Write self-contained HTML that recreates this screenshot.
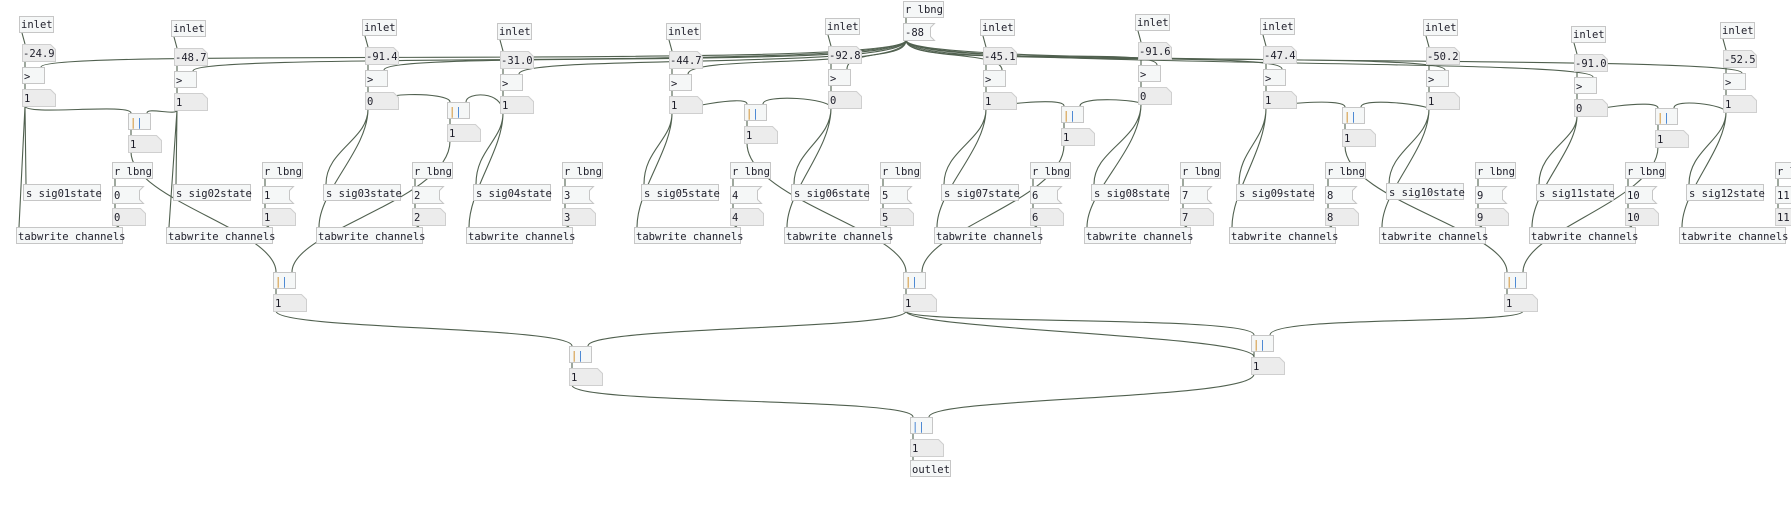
<!DOCTYPE html>
<html><head><meta charset="utf-8"><style>
html,body{margin:0;padding:0;background:#fff;width:1791px;height:524px;overflow:hidden}
svg{display:block}
.o{fill:#f5f7f7;stroke:#c6c6c6;stroke-width:1}
.n{fill:#ececec;stroke:#cfcfcf;stroke-width:1}
.m{fill:#f5f7f7;stroke:#c6c6c6;stroke-width:1}
text{font-family:"DejaVu Sans Mono","Liberation Mono",monospace;font-size:10.5px;fill:#1e1e2a}
.c{fill:none;stroke:#50604f;stroke-width:1.1}
.or{fill:#d08a20}.bl{fill:#3a7dd0}
</style></head><body>
<svg width="1791" height="524" viewBox="0 0 1791 524">
<!-- cords -->
<g class="c">
<!-- -88 to > right inlets -->
<path d="M906 40 C906 70 41 47 41 67"/>
<path d="M906 40 C906 70 193 51 193 71"/>
<path d="M906 40 C906 70 384 50 384 70"/>
<path d="M906 40 C906 70 519 54 519 74"/>
<path d="M906 40 C906 70 688 54 688 74"/>
<path d="M906 40 C906 60 847 49 847 69"/>
<path d="M906 40 C906 60 1002 50 1002 70"/>
<path d="M906 40 C906 70 1157 45 1157 65"/>
<path d="M906 40 C906 70 1282 49 1282 69"/>
<path d="M906 40 C906 70 1445 50 1445 70"/>
<path d="M906 40 C906 70 1593 57 1593 77"/>
<path d="M906 40 C906 70 1742 53 1742 73"/>
<path d="M906 17 L906 23"/>
<!-- column internal cords -->
<path d="M22 33 L25 44 M25 61 L25 67 M25 84 L25 89 M25 106 L26 184 M25 106 L19 227 M115 179 L115 186 M115 203 L115 208 M115 225 L119 227"/>
<path d="M174 37 L177 48 M177 65 L177 71 M177 88 L177 93 M177 110 L176 184 M177 110 L169 227 M265 179 L265 186 M265 203 L265 208 M265 225 L269 227"/>
<path d="M365 36 L368 47 M368 64 L368 70 M368 87 L368 92 M368 109 C368 140 326 150 326 184 M368 109 C368 150 319 190 319 227 M415 179 L415 186 M415 203 L415 208 M415 225 L419 227"/>
<path d="M500 40 L503 51 M503 68 L503 74 M503 91 L503 96 M503 113 C503 140 476 150 476 184 M503 113 C503 150 469 190 469 227 M565 179 L565 186 M565 203 L565 208 M565 225 L569 227"/>
<path d="M669 40 L672 51 M672 68 L672 74 M672 91 L672 96 M672 113 C672 140 644 150 644 184 M672 113 C672 150 637 190 637 227 M733 179 L733 186 M733 203 L733 208 M733 225 L737 227"/>
<path d="M828 35 L831 46 M831 63 L831 69 M831 86 L831 91 M831 108 C831 140 794 150 794 184 M831 108 C831 150 787 190 787 227 M883 179 L883 186 M883 203 L883 208 M883 225 L887 227"/>
<path d="M983 36 L986 47 M986 64 L986 70 M986 87 L986 92 M986 109 C986 140 944 150 944 184 M986 109 C986 150 937 190 937 227 M1033 179 L1033 186 M1033 203 L1033 208 M1033 225 L1037 227"/>
<path d="M1138 31 L1141 42 M1141 59 L1141 65 M1141 82 L1141 87 M1141 104 C1141 140 1094 150 1094 184 M1141 104 C1141 150 1087 190 1087 227 M1183 179 L1183 186 M1183 203 L1183 208 M1183 225 L1187 227"/>
<path d="M1263 35 L1266 46 M1266 63 L1266 69 M1266 86 L1266 91 M1266 108 C1266 140 1239 150 1239 184 M1266 108 C1266 150 1232 190 1232 227 M1328 179 L1328 186 M1328 203 L1328 208 M1328 225 L1332 227"/>
<path d="M1426 36 L1429 47 M1429 64 L1429 70 M1429 87 L1429 92 M1429 109 C1429 140 1389 150 1389 184 M1429 109 C1429 150 1382 190 1382 227 M1478 179 L1478 186 M1478 203 L1478 208 M1478 225 L1482 227"/>
<path d="M1574 43 L1577 54 M1577 71 L1577 77 M1577 94 L1577 99 M1577 116 C1577 140 1539 150 1539 184 M1577 116 C1577 150 1532 190 1532 227 M1628 179 L1628 186 M1628 203 L1628 208 M1628 225 L1632 227"/>
<path d="M1723 39 L1726 50 M1726 67 L1726 73 M1726 90 L1726 95 M1726 112 C1726 140 1689 150 1689 184 M1726 112 C1726 150 1682 190 1682 227 M1778 179 L1778 186 M1778 203 L1778 208"/>
<!-- to pair || -->
<path d="M25 106 C25 116 131 103 131 113 M177 110 C177 116 147 107 147 113"/>
<path d="M368 109 C368 90 450 92 450 102 M503 113 C503 90 466 92 466 102"/>
<path d="M672 113 C672 110 747 94 747 104 M831 108 C831 98 763 94 763 104"/>
<path d="M986 109 C986 106 1064 96 1064 106 M1141 104 C1141 100 1080 96 1080 106"/>
<path d="M1266 108 C1266 105 1345 97 1345 107 M1429 109 C1429 105 1361 97 1361 107"/>
<path d="M1577 116 C1577 110 1658 98 1658 108 M1726 112 C1726 105 1674 98 1674 108"/>
<!-- pair || internal -->
<path d="M131 130 L131 135 M450 119 L450 124 M747 121 L747 126 M1064 123 L1064 128 M1345 124 L1345 129 M1658 125 L1658 130"/>
<!-- pairs to groups -->
<path d="M131 152 C131 200 276 230 276 272 M450 141 C450 200 292 230 292 272"/>
<path d="M747 143 C747 200 906 230 906 272 M1064 145 C1064 200 922 230 922 272"/>
<path d="M1345 146 C1345 200 1507 230 1507 272 M1658 147 C1658 200 1523 230 1523 272"/>
<path d="M276 289 L276 294 M906 289 L906 294 M1507 289 L1507 294"/>
<!-- groups to L2 -->
<path d="M276 311 C276 330 572 326 572 346 M906 311 C906 330 588 326 588 346"/>
<path d="M906 311 C906 325 1254 315 1254 335 M1523 311 C1523 325 1270 315 1270 335 M906 311 C906 330 1254 335 1254 357"/>
<path d="M572 363 L572 368 M1254 352 L1254 357"/>
<path d="M572 385 C572 405 913 397 913 417 M1254 374 C1254 400 929 397 929 417"/>
<path d="M913 434 L913 439 M913 456 L913 460"/>
</g>
<!-- top r lbng & -88 -->
<rect class="o" x="903.5" y="1.5" width="40" height="16"/><text x="905" y="13">r lbng</text>
<path class="m" d="M903.5 23.5 h31 l-4 4 v9 l4 4 h-31 z"/><text x="905" y="36">-88</text>
<g id="cols">
<!-- c1 -->
<rect class="o" x="19.5" y="16.5" width="34" height="16"/><text x="21" y="28">inlet</text>
<path class="n" d="M22.5 44.5 h28 l5 5 v12 h-33 z"/><text x="23" y="57">-24.9</text>
<rect class="o" x="22.5" y="67.5" width="22" height="16"/><text x="24" y="80">&gt;</text>
<path class="n" d="M22.5 89.5 h28 l5 5 v12 h-33 z"/><text x="24" y="102">1</text>
<rect class="o" x="23.5" y="184.5" width="77" height="16"/><text x="26" y="197">s sig01state</text>
<rect class="o" x="16.5" y="227.5" width="106" height="16"/><text x="18" y="240">tabwrite channels</text>
<rect class="o" x="112.5" y="162.5" width="40" height="16"/><text x="114" y="175">r lbng</text>
<path class="m" d="M112.5 186.5 h31 l-4 4 v9 l4 4 h-31 z"/><text x="114" y="199">0</text>
<path class="n" d="M112.5 208.5 h28 l5 5 v12 h-33 z"/><text x="114" y="221">0</text>
<!-- c2 -->
<rect class="o" x="171.5" y="20.5" width="34" height="16"/><text x="173" y="32">inlet</text>
<path class="n" d="M174.5 48.5 h28 l5 5 v12 h-33 z"/><text x="175" y="61">-48.7</text>
<rect class="o" x="174.5" y="71.5" width="22" height="16"/><text x="176" y="84">&gt;</text>
<path class="n" d="M174.5 93.5 h28 l5 5 v12 h-33 z"/><text x="176" y="106">1</text>
<rect class="o" x="173.5" y="184.5" width="77" height="16"/><text x="176" y="197">s sig02state</text>
<rect class="o" x="166.5" y="227.5" width="106" height="16"/><text x="168" y="240">tabwrite channels</text>
<rect class="o" x="262.5" y="162.5" width="40" height="16"/><text x="264" y="175">r lbng</text>
<path class="m" d="M262.5 186.5 h31 l-4 4 v9 l4 4 h-31 z"/><text x="264" y="199">1</text>
<path class="n" d="M262.5 208.5 h28 l5 5 v12 h-33 z"/><text x="264" y="221">1</text>
<!-- c3 -->
<rect class="o" x="362.5" y="19.5" width="34" height="16"/><text x="364" y="31">inlet</text>
<path class="n" d="M365.5 47.5 h28 l5 5 v12 h-33 z"/><text x="366" y="60">-91.4</text>
<rect class="o" x="365.5" y="70.5" width="22" height="16"/><text x="367" y="83">&gt;</text>
<path class="n" d="M365.5 92.5 h28 l5 5 v12 h-33 z"/><text x="367" y="105">0</text>
<rect class="o" x="323.5" y="184.5" width="77" height="16"/><text x="326" y="197">s sig03state</text>
<rect class="o" x="316.5" y="227.5" width="106" height="16"/><text x="318" y="240">tabwrite channels</text>
<rect class="o" x="412.5" y="162.5" width="40" height="16"/><text x="414" y="175">r lbng</text>
<path class="m" d="M412.5 186.5 h31 l-4 4 v9 l4 4 h-31 z"/><text x="414" y="199">2</text>
<path class="n" d="M412.5 208.5 h28 l5 5 v12 h-33 z"/><text x="414" y="221">2</text>
<!-- c4 -->
<rect class="o" x="497.5" y="23.5" width="34" height="16"/><text x="499" y="35">inlet</text>
<path class="n" d="M500.5 51.5 h28 l5 5 v12 h-33 z"/><text x="501" y="64">-31.0</text>
<rect class="o" x="500.5" y="74.5" width="22" height="16"/><text x="502" y="87">&gt;</text>
<path class="n" d="M500.5 96.5 h28 l5 5 v12 h-33 z"/><text x="502" y="109">1</text>
<rect class="o" x="473.5" y="184.5" width="77" height="16"/><text x="476" y="197">s sig04state</text>
<rect class="o" x="466.5" y="227.5" width="106" height="16"/><text x="468" y="240">tabwrite channels</text>
<rect class="o" x="562.5" y="162.5" width="40" height="16"/><text x="564" y="175">r lbng</text>
<path class="m" d="M562.5 186.5 h31 l-4 4 v9 l4 4 h-31 z"/><text x="564" y="199">3</text>
<path class="n" d="M562.5 208.5 h28 l5 5 v12 h-33 z"/><text x="564" y="221">3</text>
<!-- c5 -->
<rect class="o" x="666.5" y="23.5" width="34" height="16"/><text x="668" y="35">inlet</text>
<path class="n" d="M669.5 51.5 h28 l5 5 v12 h-33 z"/><text x="670" y="64">-44.7</text>
<rect class="o" x="669.5" y="74.5" width="22" height="16"/><text x="671" y="87">&gt;</text>
<path class="n" d="M669.5 96.5 h28 l5 5 v12 h-33 z"/><text x="671" y="109">1</text>
<rect class="o" x="641.5" y="184.5" width="77" height="16"/><text x="644" y="197">s sig05state</text>
<rect class="o" x="634.5" y="227.5" width="106" height="16"/><text x="636" y="240">tabwrite channels</text>
<rect class="o" x="730.5" y="162.5" width="40" height="16"/><text x="732" y="175">r lbng</text>
<path class="m" d="M730.5 186.5 h31 l-4 4 v9 l4 4 h-31 z"/><text x="732" y="199">4</text>
<path class="n" d="M730.5 208.5 h28 l5 5 v12 h-33 z"/><text x="732" y="221">4</text>
<!-- c6 -->
<rect class="o" x="825.5" y="18.5" width="34" height="16"/><text x="827" y="30">inlet</text>
<path class="n" d="M828.5 46.5 h28 l5 5 v12 h-33 z"/><text x="829" y="59">-92.8</text>
<rect class="o" x="828.5" y="69.5" width="22" height="16"/><text x="830" y="82">&gt;</text>
<path class="n" d="M828.5 91.5 h28 l5 5 v12 h-33 z"/><text x="830" y="104">0</text>
<rect class="o" x="791.5" y="184.5" width="77" height="16"/><text x="794" y="197">s sig06state</text>
<rect class="o" x="784.5" y="227.5" width="106" height="16"/><text x="786" y="240">tabwrite channels</text>
<rect class="o" x="880.5" y="162.5" width="40" height="16"/><text x="882" y="175">r lbng</text>
<path class="m" d="M880.5 186.5 h31 l-4 4 v9 l4 4 h-31 z"/><text x="882" y="199">5</text>
<path class="n" d="M880.5 208.5 h28 l5 5 v12 h-33 z"/><text x="882" y="221">5</text>
<!-- c7 -->
<rect class="o" x="980.5" y="19.5" width="34" height="16"/><text x="982" y="31">inlet</text>
<path class="n" d="M983.5 47.5 h28 l5 5 v12 h-33 z"/><text x="984" y="60">-45.1</text>
<rect class="o" x="983.5" y="70.5" width="22" height="16"/><text x="985" y="83">&gt;</text>
<path class="n" d="M983.5 92.5 h28 l5 5 v12 h-33 z"/><text x="985" y="105">1</text>
<rect class="o" x="941.5" y="184.5" width="77" height="16"/><text x="944" y="197">s sig07state</text>
<rect class="o" x="934.5" y="227.5" width="106" height="16"/><text x="936" y="240">tabwrite channels</text>
<rect class="o" x="1030.5" y="162.5" width="40" height="16"/><text x="1032" y="175">r lbng</text>
<path class="m" d="M1030.5 186.5 h31 l-4 4 v9 l4 4 h-31 z"/><text x="1032" y="199">6</text>
<path class="n" d="M1030.5 208.5 h28 l5 5 v12 h-33 z"/><text x="1032" y="221">6</text>
<!-- c8 -->
<rect class="o" x="1135.5" y="14.5" width="34" height="16"/><text x="1137" y="26">inlet</text>
<path class="n" d="M1138.5 42.5 h28 l5 5 v12 h-33 z"/><text x="1139" y="55">-91.6</text>
<rect class="o" x="1138.5" y="65.5" width="22" height="16"/><text x="1140" y="78">&gt;</text>
<path class="n" d="M1138.5 87.5 h28 l5 5 v12 h-33 z"/><text x="1140" y="100">0</text>
<rect class="o" x="1091.5" y="184.5" width="77" height="16"/><text x="1094" y="197">s sig08state</text>
<rect class="o" x="1084.5" y="227.5" width="106" height="16"/><text x="1086" y="240">tabwrite channels</text>
<rect class="o" x="1180.5" y="162.5" width="40" height="16"/><text x="1182" y="175">r lbng</text>
<path class="m" d="M1180.5 186.5 h31 l-4 4 v9 l4 4 h-31 z"/><text x="1182" y="199">7</text>
<path class="n" d="M1180.5 208.5 h28 l5 5 v12 h-33 z"/><text x="1182" y="221">7</text>
<!-- c9 -->
<rect class="o" x="1260.5" y="18.5" width="34" height="16"/><text x="1262" y="30">inlet</text>
<path class="n" d="M1263.5 46.5 h28 l5 5 v12 h-33 z"/><text x="1264" y="59">-47.4</text>
<rect class="o" x="1263.5" y="69.5" width="22" height="16"/><text x="1265" y="82">&gt;</text>
<path class="n" d="M1263.5 91.5 h28 l5 5 v12 h-33 z"/><text x="1265" y="104">1</text>
<rect class="o" x="1236.5" y="184.5" width="77" height="16"/><text x="1239" y="197">s sig09state</text>
<rect class="o" x="1229.5" y="227.5" width="106" height="16"/><text x="1231" y="240">tabwrite channels</text>
<rect class="o" x="1325.5" y="162.5" width="40" height="16"/><text x="1327" y="175">r lbng</text>
<path class="m" d="M1325.5 186.5 h31 l-4 4 v9 l4 4 h-31 z"/><text x="1327" y="199">8</text>
<path class="n" d="M1325.5 208.5 h28 l5 5 v12 h-33 z"/><text x="1327" y="221">8</text>
<!-- c10 -->
<rect class="o" x="1423.5" y="19.5" width="34" height="16"/><text x="1425" y="31">inlet</text>
<path class="n" d="M1426.5 47.5 h28 l5 5 v12 h-33 z"/><text x="1427" y="60">-50.2</text>
<rect class="o" x="1426.5" y="70.5" width="22" height="16"/><text x="1428" y="83">&gt;</text>
<path class="n" d="M1426.5 92.5 h28 l5 5 v12 h-33 z"/><text x="1428" y="105">1</text>
<rect class="o" x="1386.5" y="183.5" width="77" height="16"/><text x="1389" y="196">s sig10state</text>
<rect class="o" x="1379.5" y="227.5" width="106" height="16"/><text x="1381" y="240">tabwrite channels</text>
<rect class="o" x="1475.5" y="162.5" width="40" height="16"/><text x="1477" y="175">r lbng</text>
<path class="m" d="M1475.5 186.5 h31 l-4 4 v9 l4 4 h-31 z"/><text x="1477" y="199">9</text>
<path class="n" d="M1475.5 208.5 h28 l5 5 v12 h-33 z"/><text x="1477" y="221">9</text>
<!-- c11 -->
<rect class="o" x="1571.5" y="26.5" width="34" height="16"/><text x="1573" y="38">inlet</text>
<path class="n" d="M1574.5 54.5 h28 l5 5 v12 h-33 z"/><text x="1575" y="67">-91.0</text>
<rect class="o" x="1574.5" y="77.5" width="22" height="16"/><text x="1576" y="90">&gt;</text>
<path class="n" d="M1574.5 99.5 h28 l5 5 v12 h-33 z"/><text x="1576" y="112">0</text>
<rect class="o" x="1536.5" y="184.5" width="77" height="16"/><text x="1539" y="197">s sig11state</text>
<rect class="o" x="1529.5" y="227.5" width="106" height="16"/><text x="1531" y="240">tabwrite channels</text>
<rect class="o" x="1625.5" y="162.5" width="40" height="16"/><text x="1627" y="175">r lbng</text>
<path class="m" d="M1625.5 186.5 h31 l-4 4 v9 l4 4 h-31 z"/><text x="1627" y="199">10</text>
<path class="n" d="M1625.5 208.5 h28 l5 5 v12 h-33 z"/><text x="1627" y="221">10</text>
<!-- c12 -->
<rect class="o" x="1720.5" y="22.5" width="34" height="16"/><text x="1722" y="34">inlet</text>
<path class="n" d="M1723.5 50.5 h28 l5 5 v12 h-33 z"/><text x="1724" y="63">-52.5</text>
<rect class="o" x="1723.5" y="73.5" width="22" height="16"/><text x="1725" y="86">&gt;</text>
<path class="n" d="M1723.5 95.5 h28 l5 5 v12 h-33 z"/><text x="1725" y="108">1</text>
<rect class="o" x="1686.5" y="184.5" width="77" height="16"/><text x="1689" y="197">s sig12state</text>
<rect class="o" x="1679.5" y="227.5" width="106" height="16"/><text x="1681" y="240">tabwrite channels</text>
<rect class="o" x="1775.5" y="162.5" width="40" height="16"/><text x="1777" y="175">r lbng</text>
<path class="m" d="M1775.5 186.5 h31 l-4 4 v9 l4 4 h-31 z"/><text x="1777" y="199">11</text>
<path class="n" d="M1775.5 208.5 h28 l5 5 v12 h-33 z"/><text x="1777" y="221">11</text>
</g>
<!-- || objects + number boxes -->
<g>
<rect class="o" x="128.5" y="113.5" width="22" height="16"/><text x="130" y="126"><tspan class="or">|</tspan><tspan class="bl">|</tspan></text>
<path class="n" d="M128.5 135.5 h28 l5 5 v12 h-33 z"/><text x="130" y="148">1</text>
<rect class="o" x="447.5" y="102.5" width="22" height="16"/><text x="449" y="115"><tspan class="or">|</tspan><tspan class="bl">|</tspan></text>
<path class="n" d="M447.5 124.5 h28 l5 5 v12 h-33 z"/><text x="449" y="137">1</text>
<rect class="o" x="744.5" y="104.5" width="22" height="16"/><text x="746" y="117"><tspan class="or">|</tspan><tspan class="bl">|</tspan></text>
<path class="n" d="M744.5 126.5 h28 l5 5 v12 h-33 z"/><text x="746" y="139">1</text>
<rect class="o" x="1061.5" y="106.5" width="22" height="16"/><text x="1063" y="119"><tspan class="or">|</tspan><tspan class="bl">|</tspan></text>
<path class="n" d="M1061.5 128.5 h28 l5 5 v12 h-33 z"/><text x="1063" y="141">1</text>
<rect class="o" x="1342.5" y="107.5" width="22" height="16"/><text x="1344" y="120"><tspan class="or">|</tspan><tspan class="bl">|</tspan></text>
<path class="n" d="M1342.5 129.5 h28 l5 5 v12 h-33 z"/><text x="1344" y="142">1</text>
<rect class="o" x="1655.5" y="108.5" width="22" height="16"/><text x="1657" y="121"><tspan class="or">|</tspan><tspan class="bl">|</tspan></text>
<path class="n" d="M1655.5 130.5 h28 l5 5 v12 h-33 z"/><text x="1657" y="143">1</text>

<rect class="o" x="273.5" y="272.5" width="22" height="16"/><text x="275" y="285"><tspan class="or">|</tspan><tspan class="bl">|</tspan></text>
<path class="n" d="M273.5 294.5 h28 l5 5 v12 h-33 z"/><text x="275" y="307">1</text>
<rect class="o" x="903.5" y="272.5" width="22" height="16"/><text x="905" y="285"><tspan class="or">|</tspan><tspan class="bl">|</tspan></text>
<path class="n" d="M903.5 294.5 h28 l5 5 v12 h-33 z"/><text x="905" y="307">1</text>
<rect class="o" x="1504.5" y="272.5" width="22" height="16"/><text x="1506" y="285"><tspan class="or">|</tspan><tspan class="bl">|</tspan></text>
<path class="n" d="M1504.5 294.5 h28 l5 5 v12 h-33 z"/><text x="1506" y="307">1</text>

<rect class="o" x="569.5" y="346.5" width="22" height="16"/><text x="571" y="359"><tspan class="or">|</tspan><tspan class="bl">|</tspan></text>
<path class="n" d="M569.5 368.5 h28 l5 5 v12 h-33 z"/><text x="571" y="381">1</text>
<rect class="o" x="1251.5" y="335.5" width="22" height="16"/><text x="1253" y="348"><tspan class="or">|</tspan><tspan class="bl">|</tspan></text>
<path class="n" d="M1251.5 357.5 h28 l5 5 v12 h-33 z"/><text x="1253" y="370">1</text>

<rect class="o" x="910.5" y="417.5" width="22" height="16"/><text x="912" y="430"><tspan class="bl">||</tspan></text>
<path class="n" d="M910.5 439.5 h28 l5 5 v12 h-33 z"/><text x="912" y="452">1</text>
<rect class="o" x="910.5" y="460.5" width="40" height="16"/><text x="912" y="473">outlet</text>
</g>
</svg>
</body></html>
